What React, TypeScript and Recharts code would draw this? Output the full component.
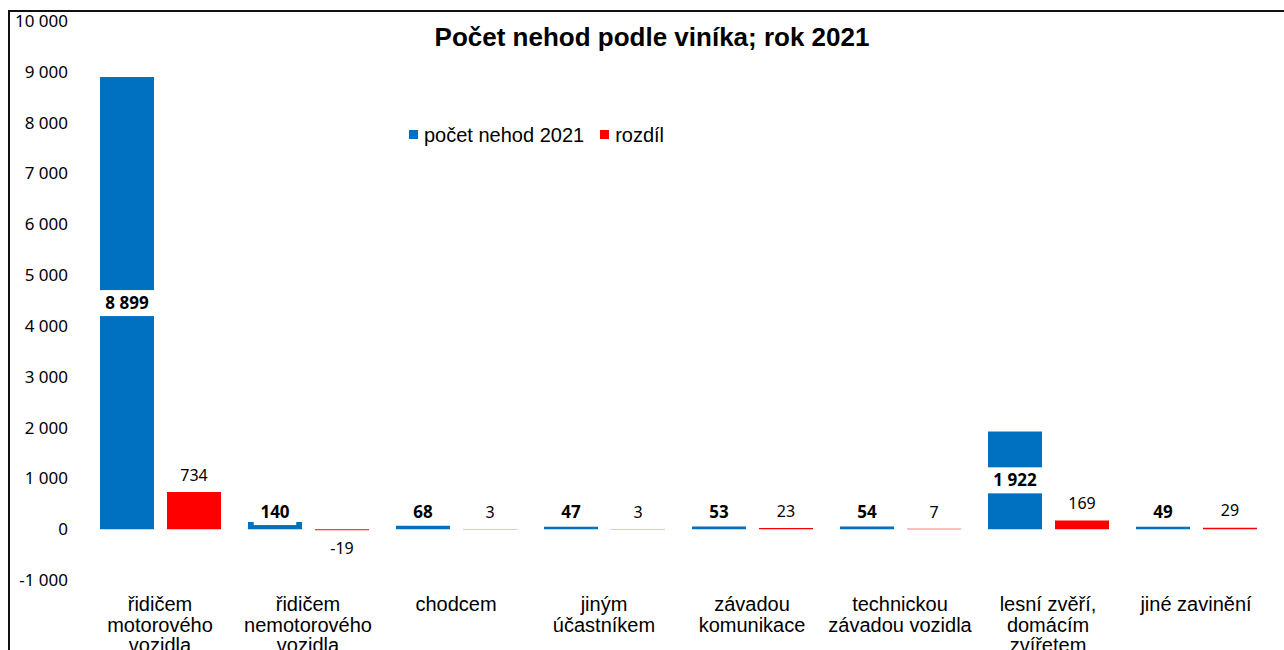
import React from 'react';
import { BarChart, Bar, XAxis, YAxis, LabelList } from 'recharts';

const categories = [
  'řidičem\nmotorového\nvozidla',
  'řidičem\nnemotorového\nvozidla',
  'chodcem',
  'jiným\núčastníkem',
  'závadou\nkomunikace',
  'technickou\nzávadou vozidla',
  'lesní zvěří,\ndomácím\nzvířetem',
  'jiné zavinění',
];
const nehody2021 = [8899, 140, 68, 47, 53, 54, 1922, 49];
const rozdil = [734, -19, 3, 3, 23, 7, 169, 29];
const yTicks = [-1000, 0, 1000, 2000, 3000, 4000, 5000, 6000, 7000, 8000, 9000, 10000];

const BLUE = '#0070C0';
const RED = '#FF0000';
const NUM_FONT = '"Noto Sans", sans-serif';
const TXT_FONT = '"Liberation Sans", Arial, sans-serif';

const data = categories.map((name, i) => ({ name, nehody: nehody2021[i], rozdil: rozdil[i] }));

// 10000 -> "10 000"
function fmt(n: number) {
  const s = String(Math.abs(n)).replace(/\B(?=(\d{3})+(?!\d))/g, ' ');
  return n < 0 ? '-' + s : s;
}

function BlueLabel(props: any) {
  const { x, y, width, height, value } = props;
  const top = Math.min(y, y + height);
  const bottom = Math.max(y, y + height);
  const h = bottom - top;
  const cx = x + width / 2;
  // tall bars get the label in the middle, small ones sit just above the zero line
  const cy = h > 60 ? top + h / 2 : Math.min(top - 10, bottom - 17);
  const text = fmt(value);
  const w = text.length * 9.5 + 14;
  return (
    <g>
      <rect x={cx - w / 2} y={cy - 13} width={w} height={26} fill="#fff" />
      <text x={cx} y={cy} dy="0.36em" textAnchor="middle" fontFamily={NUM_FONT} fontSize={17} fontWeight="bold" fill="#000">
        {text}
      </text>
    </g>
  );
}

function RedLabel(props: any) {
  const { x, y, width, height, value } = props;
  const top = Math.min(y, y + height);
  const bottom = Math.max(y, y + height);
  const cx = x + width / 2;
  const cy = value < 0 ? bottom + 18 : top - 17;
  return (
    <text x={cx} y={cy} dy="0.36em" textAnchor="middle" fontFamily={NUM_FONT} fontSize={16} fill="#000">
      {fmt(value)}
    </text>
  );
}

function CategoryTick(props: any) {
  const { x, y, payload } = props;
  const lines = String(payload.value).split('\n');
  return (
    <text x={x} y={y + 23} textAnchor="middle" fontFamily={TXT_FONT} fontSize={20} fill="#000">
      {lines.map((l, i) => (
        <tspan key={i} x={x} dy={i === 0 ? 0 : 20.5}>
          {l}
        </tspan>
      ))}
    </text>
  );
}

function LegendBox() {
  const item = (color: string, label: string) => (
    <span style={{ display: 'inline-flex', alignItems: 'center', marginRight: 16 }}>
      <span style={{ width: 9, height: 9, background: color, display: 'inline-block', marginRight: 6 }} />
      <span>{label}</span>
    </span>
  );
  return (
    <div
      style={{
        position: 'absolute',
        left: 409,
        top: 120,
        fontFamily: TXT_FONT,
        fontSize: 20,
        lineHeight: '24px',
        color: '#000',
        whiteSpace: 'nowrap',
      }}
    >
      {item(BLUE, 'počet nehod 2021')}
      {item(RED, 'rozdíl')}
    </div>
  );
}

export default function App() {
  return (
    <div style={{ position: 'absolute', left: 0, top: 0, width: 1284, height: 650, background: '#fff', overflow: 'hidden' }}>
      <div
        style={{
          position: 'absolute',
          left: 8,
          top: 10,
          width: 1400,
          height: 800,
          borderLeft: '2px solid #111',
          borderTop: '2px solid #111',
        }}
      />
      <BarChart
        width={1284}
        height={650}
        data={data}
        margin={{ top: 21, right: 14, bottom: 0, left: 0 }}
        barSize={54}
        barGap={13}
        style={{ position: 'absolute', left: 0, top: 0 }}
      >
        <XAxis dataKey="name" axisLine={false} tickLine={false} interval={0} height={70} tick={<CategoryTick />} />
        <YAxis
          width={86}
          domain={[-1000, 10000]}
          ticks={yTicks}
          interval={0}
          axisLine={false}
          tickLine={false}
          tickSize={0}
          tickMargin={18}
          tickFormatter={fmt}
          tick={{ fontFamily: NUM_FONT, fontSize: 17, fill: '#000' }}
        />
        <Bar dataKey="nehody" name="počet nehod 2021" fill={BLUE} isAnimationActive={false}>
          <LabelList dataKey="nehody" content={<BlueLabel />} />
        </Bar>
        <Bar dataKey="rozdil" name="rozdíl" fill={RED} isAnimationActive={false}>
          <LabelList dataKey="rozdil" content={<RedLabel />} />
        </Bar>
      </BarChart>
      <div
        style={{
          position: 'absolute',
          left: 0,
          top: 22,
          width: 1304,
          textAlign: 'center',
          fontFamily: TXT_FONT,
          fontWeight: 'bold',
          fontSize: 26,
          color: '#000',
        }}
      >
        Počet nehod podle viníka; rok 2021
      </div>
      <LegendBox />
    </div>
  );
}
